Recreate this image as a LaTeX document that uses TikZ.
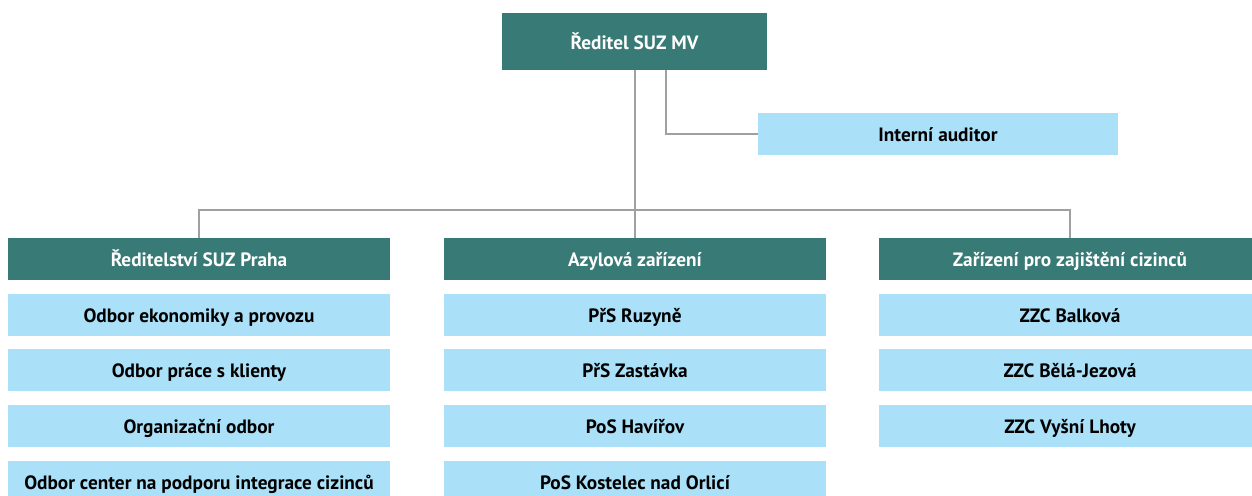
\documentclass[tikz,border=0pt]{standalone}
\usepackage{fontspec}
\setmainfont{PT Sans}
\begin{document}
\begin{tikzpicture}[x=1pt,y=1pt,
  base/.style={rectangle,inner sep=0pt,font=\fontsize{19.3}{22}\selectfont\bfseries,align=center,text height=17pt,text depth=2pt},
  head/.style={base,fill=teal1,text=white,minimum width=382pt,minimum height=42pt},
  item/.style={base,fill=lblue,text=black,minimum width=382pt,minimum height=42pt},
  conn/.style={draw=gline,line width=2pt}]
\definecolor{teal1}{RGB}{56,122,118}
\definecolor{lblue}{RGB}{170,224,248}
\definecolor{gline}{RGB}{160,160,160}
\useasboundingbox (0,0) rectangle (1252,-495);
\clip (0,0) rectangle (1252,-495);
\node[base,fill=teal1,text=white,minimum width=265pt,minimum height=57pt] (top) at (634.5,-41.5) {Ředitel SUZ MV};
\node[item,minimum width=360pt] (aud) at (938,-134) {Interní auditor};
\node[head] (h1) at (199,-259) {Ředitelství SUZ Praha};
\node[head] (h2) at (635,-259) {Azylová zařízení};
\node[head] (h3) at (1070,-259) {Zařízení pro zajištění cizinců};
\node[item] (a1) at (199,-315) {Odbor ekonomiky a provozu};
\node[item] (a2) at (199,-370) {Odbor práce s klienty};
\node[item] (a3) at (199,-426) {Organizační odbor};
\node[item] (a4) at (199,-482) {Odbor center na podporu integrace cizinců};
\node[item] (b1) at (635,-315) {PřS Ruzyně};
\node[item] (b2) at (635,-370) {PřS Zastávka};
\node[item] (b3) at (635,-426) {PoS Havířov};
\node[item] (b4) at (635,-482) {PoS Kostelec nad Orlicí};
\node[item] (c1) at (1070,-315) {ZZC Balková};
\node[item] (c2) at (1070,-370) {ZZC Bělá-Jezová};
\node[item] (c3) at (1070,-426) {ZZC Vyšní Lhoty};
\coordinate (bus) at (635,-210);
\coordinate (aroot) at (666,-70);
\draw[conn] (top.south -| h2.north) -- (h2.north);
\draw[conn] (aroot) |- (aud.west);
\draw[conn] (h1.north) |- (bus) -| (h3.north);
\end{tikzpicture}
\end{document}
